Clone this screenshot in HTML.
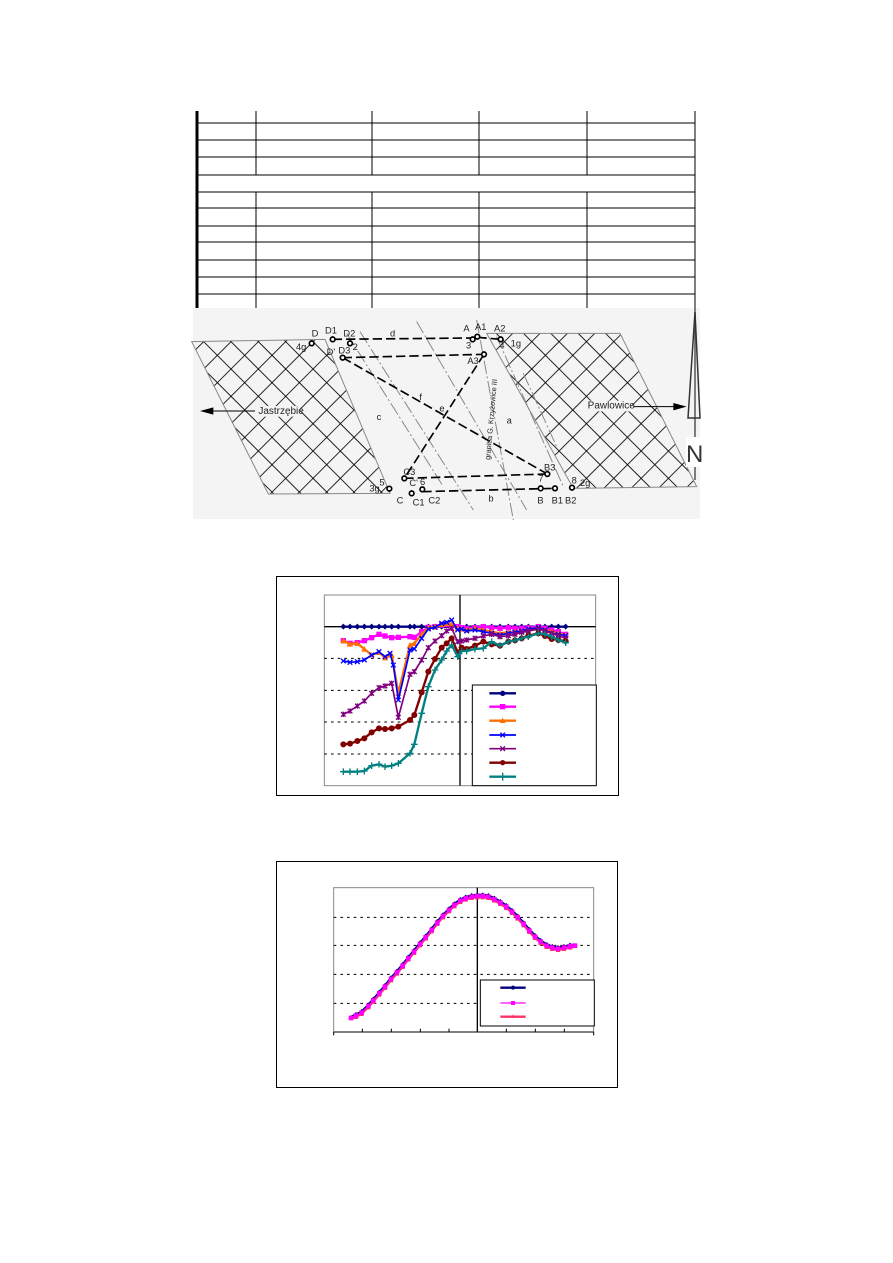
<!DOCTYPE html>
<html><head><meta charset="utf-8"><style>
html,body{margin:0;padding:0;background:#fff;}
svg{display:block;font-family:"Liberation Sans",sans-serif;}
</style></head><body>
<svg width="893" height="1263" viewBox="0 0 893 1263" xmlns="http://www.w3.org/2000/svg">
<defs>
<pattern id="hatch" patternUnits="userSpaceOnUse" width="58" height="58" patternTransform="rotate(45)">
<line x1="0" y1="0" x2="58" y2="0" stroke="#000" stroke-width="5"/>
<line x1="0" y1="0" x2="0" y2="58" stroke="#000" stroke-width="5"/>
</pattern>
<marker id="mDia" markerUnits="userSpaceOnUse" markerWidth="20" markerHeight="20" refX="10" refY="10"><polygon points="10,1 19,10 10,19 1,10" fill="#000080"/></marker>
<marker id="mSq" markerUnits="userSpaceOnUse" markerWidth="20" markerHeight="20" refX="10" refY="10"><rect x="2" y="2" width="16" height="16" fill="#ff00ff"/></marker>
<marker id="mTri" markerUnits="userSpaceOnUse" markerWidth="20" markerHeight="20" refX="10" refY="10"><polygon points="10,1 19,18 1,18" fill="#ff7000"/></marker>
<marker id="mXb" markerUnits="userSpaceOnUse" markerWidth="20" markerHeight="20" refX="10" refY="10"><path d="M3,3L17,17M17,3L3,17" stroke="#0000ff" stroke-width="4"/></marker>
<marker id="mXp" markerUnits="userSpaceOnUse" markerWidth="20" markerHeight="20" refX="10" refY="10"><path d="M3,3L17,17M17,3L3,17M10,2L10,18" stroke="#800080" stroke-width="4"/></marker>
<marker id="mCi" markerUnits="userSpaceOnUse" markerWidth="22" markerHeight="22" refX="11" refY="11"><circle cx="11" cy="11" r="9" fill="#800000"/></marker>
<marker id="mPl" markerUnits="userSpaceOnUse" markerWidth="22" markerHeight="22" refX="11" refY="11"><path d="M11,1L11,21M1,11L21,11" stroke="#008080" stroke-width="4"/></marker>
<marker id="mDia2" markerUnits="userSpaceOnUse" markerWidth="14" markerHeight="14" refX="7" refY="7"><polygon points="7,0 14,7 7,14 0,7" fill="#000080"/></marker>
<marker id="mSq2" markerUnits="userSpaceOnUse" markerWidth="16" markerHeight="16" refX="8" refY="8"><rect x="1" y="1" width="14" height="14" fill="#ff00ff"/></marker>
<marker id="mTri2" markerUnits="userSpaceOnUse" markerWidth="16" markerHeight="16" refX="8" refY="8"><polygon points="8,1 15,14 1,14" fill="#ff3366"/></marker>
</defs>
<rect width="893" height="1263" fill="#fff"/>

<!-- table -->
<g stroke="#000" stroke-width="1">
<line x1="197" y1="111" x2="197" y2="310" stroke-width="3"/>
<line x1="695" y1="111" x2="695" y2="310"/>
<line x1="256" y1="111" x2="256" y2="175"/><line x1="372" y1="111" x2="372" y2="175"/><line x1="479" y1="111" x2="479" y2="175"/><line x1="587" y1="111" x2="587" y2="175"/>
<line x1="256" y1="192" x2="256" y2="310"/><line x1="372" y1="192" x2="372" y2="310"/><line x1="479" y1="192" x2="479" y2="310"/><line x1="587" y1="192" x2="587" y2="310"/>
<line x1="197" y1="123" x2="695" y2="123"/><line x1="197" y1="140" x2="695" y2="140"/><line x1="197" y1="157" x2="695" y2="157"/><line x1="197" y1="175" x2="695" y2="175"/><line x1="197" y1="192" x2="695" y2="192"/><line x1="197" y1="208" x2="695" y2="208"/><line x1="197" y1="226" x2="695" y2="226"/><line x1="197" y1="242" x2="695" y2="242"/><line x1="197" y1="260" x2="695" y2="260"/><line x1="197" y1="277" x2="695" y2="277"/><line x1="197" y1="294" x2="695" y2="294"/>
</g>

<!-- map -->
<rect x="193" y="308" width="507" height="211" fill="#f4f4f4"/>
<g transform="translate(190,300) scale(0.33333)">
<polygon points="5,125 405,118 600,580 235,582" fill="url(#hatch)" stroke="#888" stroke-width="3"/>
<polygon points="890,100 1290,100 1520,560 1150,565" fill="url(#hatch)" stroke="#888" stroke-width="3"/>
<g stroke="#888" stroke-width="3" stroke-dasharray="40,8,6,8" fill="none">
<line x1="470" y1="100" x2="760" y2="560"/>
<line x1="510" y1="95" x2="850" y2="630"/>
<line x1="680" y1="65" x2="1010" y2="630"/>
<line x1="860" y1="60" x2="970" y2="660"/>
<line x1="920" y1="110" x2="1120" y2="560"/>
<line x1="1000" y1="220" x2="1100" y2="440"/>
</g>
<g stroke="#000" stroke-width="5" stroke-dasharray="28,12" fill="none">
<line x1="428" y1="118" x2="848" y2="114"/>
<line x1="862" y1="112" x2="932" y2="118"/>
<line x1="458" y1="173" x2="882" y2="163"/>
<line x1="458" y1="173" x2="1072" y2="522"/>
<line x1="882" y1="163" x2="643" y2="535"/>
<line x1="643" y1="535" x2="1072" y2="522"/>
<line x1="697" y1="575" x2="1095" y2="565"/>
</g>
<g fill="#fff" stroke="#000" stroke-width="5">
<circle cx="365" cy="130" r="7"/><circle cx="428" cy="118" r="7"/><circle cx="480" cy="130" r="7"/>
<circle cx="848" cy="118" r="7"/><circle cx="862" cy="110" r="7"/><circle cx="932" cy="118" r="7"/>
<circle cx="458" cy="173" r="7"/><circle cx="882" cy="163" r="7"/><circle cx="643" cy="535" r="7"/>
<circle cx="598" cy="566" r="7"/><circle cx="665" cy="580" r="7"/><circle cx="697" cy="568" r="7"/>
<circle cx="1072" cy="522" r="7"/><circle cx="1052" cy="565" r="7"/><circle cx="1095" cy="565" r="7"/><circle cx="1146" cy="563" r="7"/>
</g>
<g font-size="28" fill="#222">
<text x="365" y="110">D</text><text x="405" y="100">D1</text><text x="460" y="110">D2</text>
<text x="318" y="150">4g</text><text x="488" y="150">2</text><text x="410" y="165">D'</text><text x="445" y="160">D3</text>
<text x="820" y="95">A</text><text x="855" y="90">A1</text><text x="912" y="95">A2</text>
<text x="828" y="145">3</text><text x="928" y="145">4</text><text x="962" y="140">1g</text><text x="832" y="192">A3</text>
<text x="600" y="110">d</text><text x="688" y="300">f</text><text x="748" y="335">e</text><text x="560" y="360">c</text><text x="950" y="370">a</text>
<text x="640" y="525">C3</text><text x="568" y="556">5</text><text x="538" y="575">3g</text><text x="658" y="558">C'</text><text x="690" y="555">6</text>
<text x="620" y="610">C</text><text x="668" y="616">C1</text><text x="715" y="610">C2</text><text x="895" y="605">b</text>
<text x="1062" y="512">B3</text><text x="1045" y="545">7</text><text x="1145" y="550">8</text><text x="1170" y="558">2g</text>
<text x="1042" y="610">B</text><text x="1085" y="610">B1</text><text x="1125" y="610">B2</text>
<text x="900" y="480" transform="rotate(-85 900 480)" font-size="22">granica G. Krzyżowice III</text>
</g>
<rect x="195" y="318" width="135" height="32" fill="#f4f4f4"/>
<text x="205" y="342" font-size="30" fill="#222">Jastrzębie</text>
<line x1="195" y1="333" x2="60" y2="333" stroke="#000" stroke-width="3"/>
<polygon points="30,333 70,322 70,344" fill="#000"/>
<rect x="1185" y="302" width="140" height="32" fill="#f4f4f4"/>
<text x="1193" y="326" font-size="30" fill="#222">Pawlowice</text>
<line x1="1330" y1="320" x2="1460" y2="320" stroke="#000" stroke-width="3"/>
<polygon points="1490,320 1450,309 1450,331" fill="#000"/>
</g>
<line x1="695" y1="300" x2="695" y2="480" stroke="#555" stroke-width="1.5"/>
<polygon points="695,312 688,418 700,418" fill="none" stroke="#333" stroke-width="1.5"/>
<rect x="686" y="437" width="16" height="30" fill="#fff"/>
<text x="686" y="462" font-size="24" fill="#333">N</text>

<!-- chart 1 -->
<rect x="276.5" y="576.5" width="342" height="219" fill="#fff" stroke="#000" stroke-width="1"/>
<g transform="translate(275,575) scale(0.33333)">
<rect x="148" y="60" width="814" height="572" fill="none" stroke="#888" stroke-width="3"/>
<g stroke="#000" stroke-width="3" stroke-dasharray="8,12">
<line x1="148" y1="250" x2="962" y2="250"/><line x1="148" y1="346" x2="962" y2="346"/><line x1="148" y1="441" x2="962" y2="441"/><line x1="148" y1="537" x2="962" y2="537"/>
</g>
<line x1="148" y1="155" x2="962" y2="155" stroke="#000" stroke-width="4"/>
<line x1="555" y1="60" x2="555" y2="632" stroke="#000" stroke-width="4"/>
<g fill="none" stroke-width="7" stroke-linejoin="round">
<polyline stroke="#000080" marker-start="url(#mDia)" marker-mid="url(#mDia)" marker-end="url(#mDia)" points="205,155 225,155 247,155 268,155 290,155 312,155 330,155 350,155 370,155 405,155 418,155 440,155 460,155 480,155 500,155 530,155 548,155 575,155 600,155 625,155 650,155 675,155 700,155 720,155 740,155 760,155 790,155 810,155 830,155 850,155 872,155"/>
<polyline stroke="#ff00ff" marker-start="url(#mSq)" marker-mid="url(#mSq)" marker-end="url(#mSq)" points="205,197 225,205 247,203 268,197 290,188 312,178 330,183 350,188 370,187 405,185 418,187 440,170 460,157 480,155 500,150 515,148 530,152 548,155 560,158 575,160 600,158 625,155 650,158 675,160 700,158 720,160 740,160 760,158 790,155 810,160 830,165 850,170 872,178"/>
<polyline stroke="#ff7000" marker-start="url(#mTri)" marker-mid="url(#mTri)" marker-end="url(#mTri)" points="205,197 225,207 247,205 268,222 290,240 312,232 330,248 350,240 370,355 405,210 418,205 440,178 460,158 480,155 500,148 515,145 530,148 548,160 560,162 575,165 600,160 625,165 650,170 675,175 700,172 720,170 740,168 760,162 790,158 810,165 830,170 850,175 872,180"/>
<polyline stroke="#0000ff" stroke-width="5" marker-start="url(#mXb)" marker-mid="url(#mXb)" marker-end="url(#mXb)" points="205,258 225,262 247,260 268,255 290,240 312,230 330,245 345,235 355,270 370,375 405,225 418,222 440,190 460,162 480,157 500,145 515,142 530,135 548,165 560,162 575,168 600,165 625,170 650,175 675,180 700,175 720,172 740,168 760,162 790,158 810,165 830,175 850,178 872,182"/>
<polyline stroke="#800080" stroke-width="5" marker-start="url(#mXp)" marker-mid="url(#mXp)" marker-end="url(#mXp)" points="205,418 225,408 247,393 268,378 290,355 312,338 330,333 350,325 370,427 405,298 418,290 440,255 460,218 480,198 500,182 515,168 530,160 548,200 560,198 575,195 600,190 625,183 650,178 675,185 700,182 720,178 740,172 760,168 790,162 810,168 830,175 850,182 872,190"/>
<polyline stroke="#800000" marker-start="url(#mCi)" marker-mid="url(#mCi)" marker-end="url(#mCi)" points="205,508 225,506 247,498 268,490 290,472 312,460 330,462 350,460 370,455 405,435 418,420 440,352 460,290 480,252 500,218 515,205 530,190 548,232 560,218 575,222 600,212 625,200 650,208 675,212 700,200 720,196 740,190 760,182 790,175 810,183 830,192 850,195 872,198"/>
<polyline stroke="#008080" marker-start="url(#mPl)" marker-mid="url(#mPl)" marker-end="url(#mPl)" points="205,590 225,590 247,590 268,588 290,572 312,568 330,575 350,572 370,565 405,535 418,508 440,415 460,335 480,285 500,255 515,228 530,210 548,245 560,228 575,228 600,222 625,220 650,200 675,212 700,200 720,196 740,190 760,185 790,175 810,178 830,185 850,195 872,203"/>
</g>
<rect x="592" y="330" width="372" height="302" fill="#fff" stroke="#000" stroke-width="3"/>
<g stroke-width="7">
<line x1="643" y1="355" x2="723" y2="355" stroke="#000080"/><circle cx="683" cy="355" r="8" fill="#000080"/>
<line x1="643" y1="395" x2="723" y2="395" stroke="#ff00ff"/><rect x="675" y="387" width="16" height="16" fill="#ff00ff"/>
<line x1="643" y1="437" x2="723" y2="437" stroke="#ff7000"/><polygon points="683,428 692,444 674,444" fill="#ff7000"/>
<line x1="643" y1="480" x2="723" y2="480" stroke="#0000ff" stroke-width="5"/><path d="M676,473L690,487M690,473L676,487" stroke="#0000ff" stroke-width="4"/>
<line x1="643" y1="521" x2="723" y2="521" stroke="#800080" stroke-width="5"/><path d="M676,514L690,528M690,514L676,528" stroke="#800080" stroke-width="4"/>
<line x1="643" y1="563" x2="723" y2="563" stroke="#800000"/><circle cx="683" cy="563" r="8" fill="#800000"/>
<line x1="643" y1="605" x2="723" y2="605" stroke="#008080"/><line x1="683" y1="593" x2="683" y2="617" stroke="#008080" stroke-width="4"/>
</g>
</g>

<!-- chart 2 -->
<rect x="276.5" y="861.5" width="341" height="226" fill="#fff" stroke="#000" stroke-width="1"/>
<g transform="translate(275,860) scale(0.33333)">
<rect x="176" y="83" width="780" height="433" fill="none" stroke="#888" stroke-width="3"/>
<g stroke="#000" stroke-width="3" stroke-dasharray="8,12">
<line x1="176" y1="172" x2="956" y2="172"/><line x1="176" y1="256" x2="956" y2="256"/><line x1="176" y1="343" x2="956" y2="343"/><line x1="176" y1="430" x2="956" y2="430"/>
</g>
<line x1="176" y1="516" x2="956" y2="516" stroke="#000" stroke-width="3"/>
<line x1="607" y1="83" x2="607" y2="516" stroke="#000" stroke-width="4"/>
<g stroke="#000" stroke-width="3"><line x1="262" y1="516" x2="262" y2="506"/><line x1="349" y1="516" x2="349" y2="506"/><line x1="436" y1="516" x2="436" y2="506"/><line x1="522" y1="516" x2="522" y2="506"/><line x1="694" y1="516" x2="694" y2="506"/><line x1="781" y1="516" x2="781" y2="506"/><line x1="868" y1="516" x2="868" y2="506"/><line x1="176" y1="516" x2="176" y2="526"/><line x1="956" y1="516" x2="956" y2="526"/></g>
<g fill="none" stroke-width="6">
<polyline stroke="#000080" transform="translate(0,-4)" marker-mid="url(#mDia2)" points="228,474 243,467 260,458 280,438 295,421 313,400 330,380 348,357 366,337 383,317 400,295 417,275 435,252 452,232 470,210 487,188 504,168 522,150 538,135 556,122 572,115 590,110 607,108 623,108 640,110 658,118 676,128 694,140 711,155 728,172 746,192 763,212 780,230 797,245 815,257 832,263 849,266 867,263 885,259 900,257"/>
<polyline stroke="#ff3366" transform="translate(0,4)" marker-mid="url(#mTri2)" points="228,474 243,467 260,458 280,438 295,421 313,400 330,380 348,357 366,337 383,317 400,295 417,275 435,252 452,232 470,210 487,188 504,168 522,150 538,135 556,122 572,115 590,110 607,108 623,108 640,110 658,118 676,128 694,140 711,155 728,172 746,192 763,212 780,230 797,245 815,257 832,263 849,266 867,263 885,259 900,257"/>
<polyline stroke="#ff00ff" stroke-width="4" marker-start="url(#mSq2)" marker-mid="url(#mSq2)" marker-end="url(#mSq2)" points="228,474 243,467 260,458 280,438 295,421 313,400 330,380 348,357 366,337 383,317 400,295 417,275 435,252 452,232 470,210 487,188 504,168 522,150 538,135 556,122 572,115 590,110 607,108 623,108 640,110 658,118 676,128 694,140 711,155 728,172 746,192 763,212 780,230 797,245 815,257 832,263 849,266 867,263 885,259 900,257"/>
</g>
<rect x="616" y="360" width="342" height="138" fill="#fff" stroke="#000" stroke-width="3"/>
<line x1="676" y1="383" x2="752" y2="383" stroke="#000080" stroke-width="7"/><circle cx="714" cy="383" r="6" fill="#000080"/>
<line x1="676" y1="429" x2="752" y2="429" stroke="#ff00ff" stroke-width="4"/><rect x="708" y="423" width="12" height="12" fill="#ff00ff"/>
<line x1="676" y1="470" x2="752" y2="470" stroke="#ff3366" stroke-width="7"/><polygon points="714,463 720,474 708,474" fill="#ff3366"/>
</g>
</svg>
</body></html>
